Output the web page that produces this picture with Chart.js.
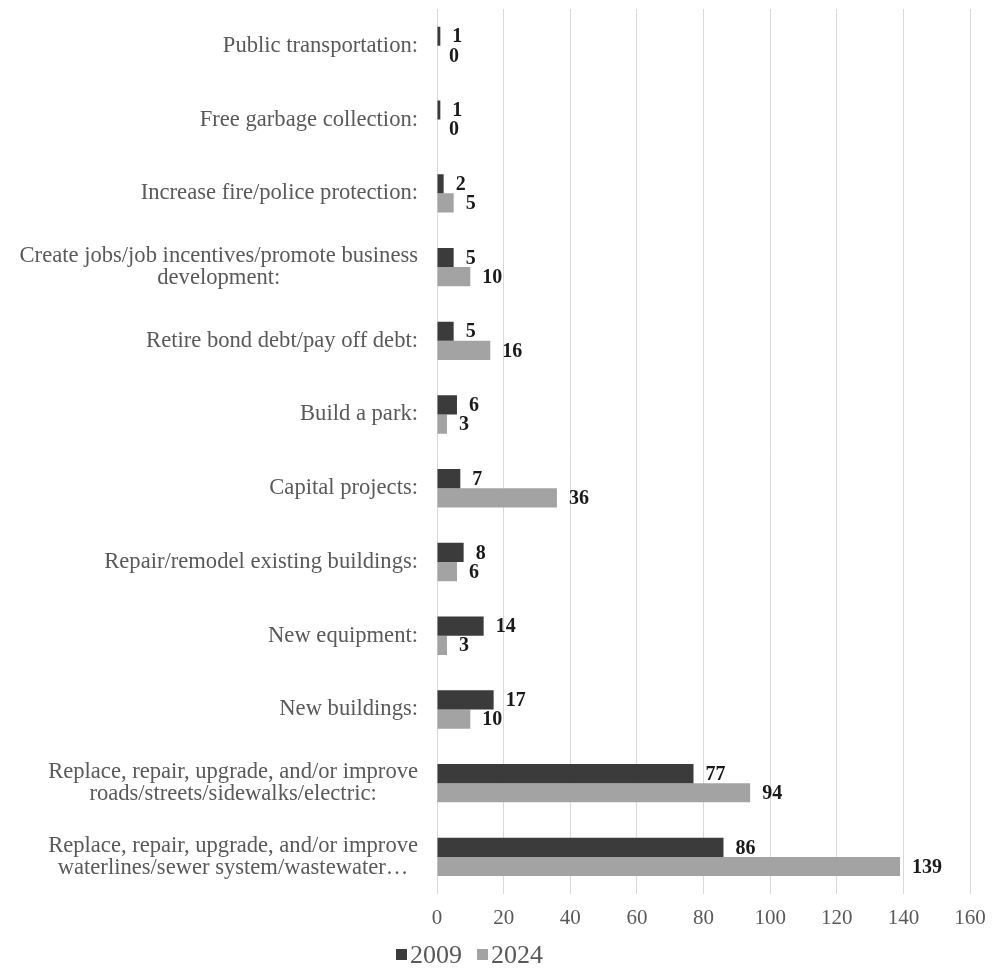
<!DOCTYPE html>
<html>
<head>
<meta charset="utf-8">
<script src="https://cdn.jsdelivr.net/npm/chart.js@4.4.1/dist/chart.umd.min.js"></script>
<style>
  html, body { margin: 0; padding: 0; background: #ffffff; }
  #wrap { position: relative; width: 993px; height: 980px; }
</style>
</head>
<body>
<div id="wrap"><canvas id="chart" width="993" height="980"></canvas></div>
<script>
// Survey responses: how the tax revenue should be spent
const categories = [
  "Public transportation:",
  "Free garbage collection:",
  "Increase fire/police protection:",
  ["Create jobs/job incentives/promote business", "development:"],
  "Retire bond debt/pay off debt:",
  "Build a park:",
  "Capital projects:",
  "Repair/remodel existing buildings:",
  "New equipment:",
  "New buildings:",
  ["Replace, repair, upgrade, and/or improve", "roads/streets/sidewalks/electric:"],
  ["Replace, repair, upgrade, and/or improve", "waterlines/sewer system/wastewater\u2026"]
];
const seriesNames = ["2009", "2024"];
const values2009 = [1, 1, 2, 5, 5, 6, 7, 8, 14, 17, 77, 86];
const values2024 = [0, 0, 5, 10, 16, 3, 36, 6, 3, 10, 94, 139];
const xTicks = [0, 20, 40, 60, 80, 100, 120, 140, 160];

const FONT = '"Liberation Serif", "Times New Roman", serif';
const TEXT_GREY = '#595959';
const SERIES_COLORS = ['#3b3b3b', '#a3a3a3'];
const CAT_FONT_SIZE = 22.6;
const CAT_LINE_HEIGHT = 21.5;
const CAT_PAD = 19;
const CAT_AXIS_WIDTH = 419;

// Bold value labels just past the end of each bar
const valueLabels = {
  id: 'valueLabels',
  afterDatasetsDraw(chart) {
    const ctx = chart.ctx;
    ctx.save();
    ctx.font = 'bold 20px ' + FONT;
    ctx.fillStyle = '#1a1a1a';
    ctx.textAlign = 'left';
    ctx.textBaseline = 'middle';
    chart.data.datasets.forEach((ds, i) => {
      const meta = chart.getDatasetMeta(i);
      meta.data.forEach((bar, j) => {
        ctx.fillText(String(ds.data[j]), bar.x + 12, bar.y + 1);
      });
    });
    ctx.restore();
  }
};

// Category labels: block right-aligned against the axis, lines centred within the block
const categoryLabels = {
  id: 'categoryLabels',
  afterDraw(chart) {
    const ctx = chart.ctx;
    const yScale = chart.scales.y;
    ctx.save();
    ctx.font = CAT_FONT_SIZE + 'px ' + FONT;
    ctx.fillStyle = TEXT_GREY;
    ctx.textAlign = 'center';
    ctx.textBaseline = 'middle';
    chart.data.labels.forEach((lab, i) => {
      const lines = Array.isArray(lab) ? lab : [lab];
      const maxW = Math.max(...lines.map(l => ctx.measureText(l).width));
      const cx = yScale.right - CAT_PAD - maxW / 2;
      const cy = yScale.getPixelForValue(i);
      lines.forEach((line, k) => {
        ctx.fillText(line, cx, cy + (k - (lines.length - 1) / 2) * CAT_LINE_HEIGHT);
      });
    });
    ctx.restore();
  }
};

// Legend row below the value axis
const legendRow = {
  id: 'legendRow',
  afterDraw(chart) {
    const ctx = chart.ctx;
    const y = 955;
    let x = 396;
    ctx.save();
    ctx.font = '26px ' + FONT;
    ctx.textAlign = 'left';
    ctx.textBaseline = 'middle';
    chart.data.datasets.forEach((ds) => {
      ctx.fillStyle = ds.backgroundColor;
      ctx.fillRect(x, y - 6, 11, 11);
      ctx.fillStyle = TEXT_GREY;
      ctx.fillText(ds.label, x + 14, y + 1);
      x += 14 + ctx.measureText(ds.label).width + 15;
    });
    ctx.restore();
  }
};

new Chart(document.getElementById('chart'), {
  type: 'bar',
  data: {
    labels: categories,
    datasets: [
      { label: seriesNames[0], data: values2009, backgroundColor: SERIES_COLORS[0] },
      { label: seriesNames[1], data: values2024, backgroundColor: SERIES_COLORS[1] }
    ]
  },
  options: {
    indexAxis: 'y',
    responsive: false,
    animation: false,
    devicePixelRatio: 1,
    categoryPercentage: 0.52,
    barPercentage: 1.0,
    layout: { padding: { top: 9, right: 23, bottom: 37, left: 18 } },
    scales: {
      x: {
        min: 0,
        max: 160,
        afterBuildTicks(axis) { axis.ticks = xTicks.map(v => ({ value: v })); },
        grid: { color: '#d9d9d9', lineWidth: 1, drawTicks: false },
        border: { display: false },
        ticks: { color: TEXT_GREY, padding: 12, font: { family: FONT, size: 21 } },
        afterFit(scale) {
          scale.paddingLeft = 0;
          scale.paddingRight = 0;
        }
      },
      y: {
        grid: { display: false, drawTicks: false },
        border: { display: false },
        // labels are painted by categoryLabels; the axis only reserves their width
        ticks: { display: false, autoSkip: false },
        afterFit(scale) {
          scale.width = CAT_AXIS_WIDTH;
          scale.paddingTop = 0;
          scale.paddingBottom = 0;
        }
      }
    },
    plugins: {
      legend: { display: false },
      tooltip: { enabled: false }
    }
  },
  plugins: [valueLabels, categoryLabels, legendRow]
});
</script>
</body>
</html>
